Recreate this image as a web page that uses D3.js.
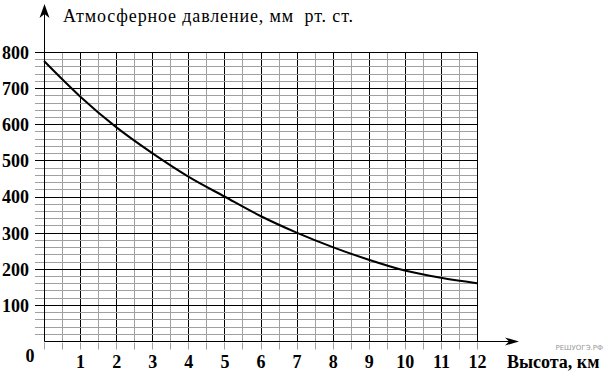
<!DOCTYPE html>
<html>
<head>
<meta charset="utf-8">
<script src="https://cdn.jsdelivr.net/npm/d3@7"></script>
<style>
  body { margin: 0; background: #fff; }
  svg { display: block; }
  .serif { font-family: "Liberation Serif", "Times New Roman", "DejaVu Serif", serif; fill: #000; }
  .tick text { font-family: "Liberation Serif", "Times New Roman", "DejaVu Serif", serif; font-weight: bold; fill: #000; }
</style>
</head>
<body>
<svg width="606" height="377"></svg>
<script>
/* chart data */
var heights = [0, 1, 2, 3, 4, 5, 6, 7, 8, 9, 10, 11, 12];
var pressure = [775, 677, 592, 520, 455, 400, 346, 300, 260, 225, 195, 175, 160];
var xTicks = [1, 2, 3, 4, 5, 6, 7, 8, 9, 10, 11, 12];
var yTicks = [100, 200, 300, 400, 500, 600, 700, 800];

var svg = d3.select("svg");

var x = d3.scaleLinear().domain([0, 12]).range([44, 477]),
    y = d3.scaleLinear().domain([0, 800]).range([341, 52]);

function px(v) { return Math.round(x(v)) + 0.5; }
function py(v) { return Math.round(y(v)) + 0.5; }

var grid = svg.append("g");

/* vertical lines every 0.5 km */
d3.range(0, 12.01, 0.5).forEach(function (k) {
    var major = Math.abs(k - Math.round(k)) < 1e-6 && k > 0;
    grid.append("line")
        .attr("x1", px(k)).attr("x2", px(k))
        .attr("y1", py(800)).attr("y2", py(0))
        .attr("stroke", major ? "#000" : "#a0a0a0");
    // little tick under the axis
    grid.append("line")
        .attr("x1", px(k)).attr("x2", px(k))
        .attr("y1", py(0) + 1).attr("y2", py(0) + 8)
        .attr("stroke", "#a0a0a0");
});

/* horizontal lines every 20 mm */
var hLines = d3.range(20, 801, 20);
hLines.filter(function (v) { return v % 100 !== 0; }).forEach(function (v) {
    grid.append("line")
        .attr("x1", 35).attr("x2", px(12))
        .attr("y1", py(v)).attr("y2", py(v))
        .attr("stroke", "#a0a0a0");
});
hLines.filter(function (v) { return v % 100 === 0; }).forEach(function (v) {
    grid.append("line")
        .attr("x1", 35).attr("x2", px(12))
        .attr("y1", py(v)).attr("y2", py(v))
        .attr("stroke", "#000");
});
grid.append("line")
    .attr("x1", px(12)).attr("x2", px(12))
    .attr("y1", py(800)).attr("y2", py(0))
    .attr("stroke", "#000");

/* axes with arrows */
svg.append("line")
    .attr("x1", px(0)).attr("x2", px(0))
    .attr("y1", py(0)).attr("y2", 10)
    .attr("stroke", "#000");
svg.append("path")
    .attr("d", "M" + px(0) + ",4 L" + (px(0) + 5) + ",18 L" + px(0) + ",14 L" + (px(0) - 5) + ",18 Z")
    .attr("fill", "#000");

svg.append("line")
    .attr("x1", px(0)).attr("x2", 512)
    .attr("y1", py(0)).attr("y2", py(0))
    .attr("stroke", "#000");
svg.append("path")
    .attr("d", "M519," + py(0) + " L505," + (py(0) - 4) + " L509," + py(0) + " L505," + (py(0) + 4) + " Z")
    .attr("fill", "#000");

/* tick labels */
svg.append("g")
    .attr("transform", "translate(0," + py(0) + ")")
    .call(d3.axisBottom(x).tickValues(xTicks).tickSize(0).tickPadding(14))
    .call(function (g) { g.select(".domain").remove(); g.attr("font-family", null); })
    .selectAll("text").style("font-size", "18px");

svg.append("g")
    .attr("transform", "translate(29,0)")
    .call(d3.axisLeft(y).tickValues(yTicks).tickSize(0).tickPadding(0))
    .call(function (g) { g.select(".domain").remove(); g.attr("font-family", null); })
    .selectAll("text").style("font-size", "18px").attr("dy", "0.36em");

svg.append("text")
    .attr("class", "serif")
    .attr("x", 30).attr("y", 362)
    .attr("text-anchor", "middle")
    .style("font-weight", "bold")
    .style("font-size", "18px")
    .text("0");

/* axis titles */
svg.append("text")
    .attr("class", "serif")
    .attr("x", 63).attr("y", 22)
    .style("font-size", "18px")
    .attr("xml:space", "preserve")
    .attr("textLength", 290)
    .text("Атмосферное давление, мм  рт. ст.");

svg.append("text")
    .attr("class", "serif")
    .attr("x", 507).attr("y", 368)
    .style("font-weight", "bold")
    .style("font-size", "18px")
    .text("Высота, км");

svg.append("text")
    .attr("x", 603).attr("y", 350)
    .attr("text-anchor", "end")
    .style("font-family", "'DejaVu Sans', sans-serif")
    .style("font-size", "7px")
    .attr("fill", "#999")
    .text("РЕШУОГЭ.РФ");

/* curve */
var line = d3.line()
    .x(function (d, i) { return x(heights[i]); })
    .y(function (d) { return y(d); })
    .curve(d3.curveMonotoneX);

svg.append("path")
    .datum(pressure)
    .attr("d", line)
    .attr("fill", "none")
    .attr("stroke", "#000")
    .attr("stroke-width", 2);
</script>
</body>
</html>
